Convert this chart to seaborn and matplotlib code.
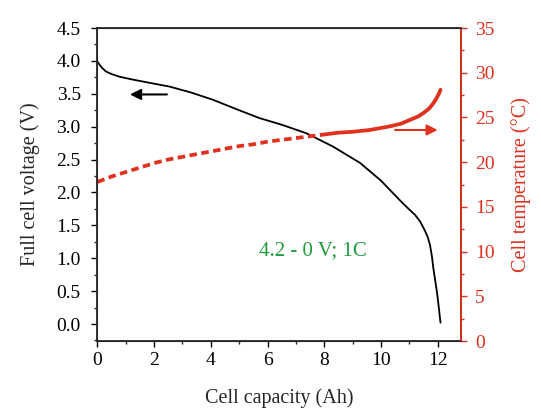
import pandas as pd
import numpy as np
from matplotlib import pyplot as plt
from matplotlib.ticker import MultipleLocator
import seaborn as sns

sns.set_style('ticks')
plt.rcParams['font.family'] = ['Liberation Serif', 'DejaVu Serif']

# discharge curve
capacity_v = [0.0, 0.05, 0.15, 0.3, 0.5, 0.78, 1.2, 1.8, 2.54, 3.3, 4.07, 5.0, 5.72, 6.5, 7.37, 8.3, 9.26,
              10.0, 10.67, 11.0, 11.2, 11.38, 11.55, 11.65, 11.73, 11.8, 11.84, 11.9, 11.98, 12.04, 12.1]
voltage = [3.99, 3.96, 3.9, 3.84, 3.8, 3.76, 3.72, 3.67, 3.61, 3.52, 3.41, 3.25, 3.13, 3.03, 2.9, 2.7, 2.45,
           2.18, 1.88, 1.74, 1.66, 1.56, 1.42, 1.32, 1.2, 1.02, 0.87, 0.7, 0.47, 0.25, 0.02]

# cell temperature
capacity_t = [0.0, 0.5, 1.0, 1.5, 2.0, 2.5, 3.0, 3.5, 4.0, 4.5, 5.0, 5.5, 6.0, 6.5, 7.0, 7.5, 8.0,
              8.5, 9.0, 9.6, 10.3, 10.7, 11.0, 11.3, 11.5, 11.7, 11.85, 11.95, 12.05, 12.1]
temperature = [17.8, 18.4, 18.9, 19.4, 19.9, 20.3, 20.6, 20.9, 21.2, 21.5, 21.8, 22.0, 22.3, 22.5, 22.7, 22.9, 23.1,
               23.3, 23.4, 23.6, 24.0, 24.3, 24.7, 25.1, 25.5, 26.0, 26.6, 27.1, 27.7, 28.1]

df_v = pd.DataFrame({'cap': capacity_v, 'volt': voltage})
df_t = pd.DataFrame({'cap': capacity_t, 'temp': temperature})
red = '#e0301e'

fig, ax = plt.subplots(figsize=(5.41, 4.12), dpi=100)
fig.subplots_adjust(left=0.18, right=0.852, top=0.932, bottom=0.172)

sns.lineplot(data=df_v, x='cap', y='volt', ax=ax, color='black', linewidth=1.3)
ax.set_xlim(0, 12.82)
ax.set_ylim(-0.26, 4.5)
ax.xaxis.set_major_locator(MultipleLocator(2))
ax.xaxis.set_minor_locator(MultipleLocator(1))
ax.yaxis.set_major_locator(MultipleLocator(0.5))
ax.yaxis.set_minor_locator(MultipleLocator(0.25))
ax.tick_params(which='major', length=4, width=1, labelsize=14, colors='black')
ax.tick_params(axis='y', which='major', pad=8)
ax.tick_params(which='minor', length=2.5, width=1)
ax.set_xlabel('Cell capacity (Ah)', fontsize=14.5, labelpad=14)
ax.set_ylabel('Full cell voltage (V)', fontsize=14.5, labelpad=12)
for s in ax.spines.values():
    s.set_linewidth(1.3)
ax.text(7.6, 1.12, '4.2 - 0 V; 1C', color='#1e9a3c', fontsize=15, ha='center', va='center')
ax.annotate('', xy=(1.05, 3.49), xytext=(2.55, 3.49),
            arrowprops=dict(arrowstyle='-|>', color='black', lw=1.5, mutation_scale=16))

ax2 = ax.twinx()
early = df_t[df_t['cap'] <= 8.0]
late = df_t[df_t['cap'] >= 8.0]
sns.lineplot(data=early, x='cap', y='temp', ax=ax2, color=red, linewidth=2.7, linestyle=(0, (2, 1.2)))
sns.lineplot(data=late, x='cap', y='temp', ax=ax2, color=red, linewidth=2.7)
ax2.set_ylim(0, 35)
ax2.yaxis.set_major_locator(MultipleLocator(5))
ax2.yaxis.set_minor_locator(MultipleLocator(2.5))
ax2.tick_params(which='major', length=4, width=1, labelsize=14, colors=red, pad=6)
ax2.tick_params(which='minor', length=2.5, width=1, colors=red)
ax2.set_ylabel('Cell temperature (°C)', fontsize=14.5, color=red, labelpad=12)
ax2.spines['right'].set_color(red)
ax2.spines['right'].set_linewidth(1.3)
ax2.annotate('', xy=(12.1, 23.6), xytext=(10.4, 23.6),
             arrowprops=dict(arrowstyle='-|>', color=red, lw=1.5, mutation_scale=16))

plt.savefig('out.png', dpi=100)
plt.close()
